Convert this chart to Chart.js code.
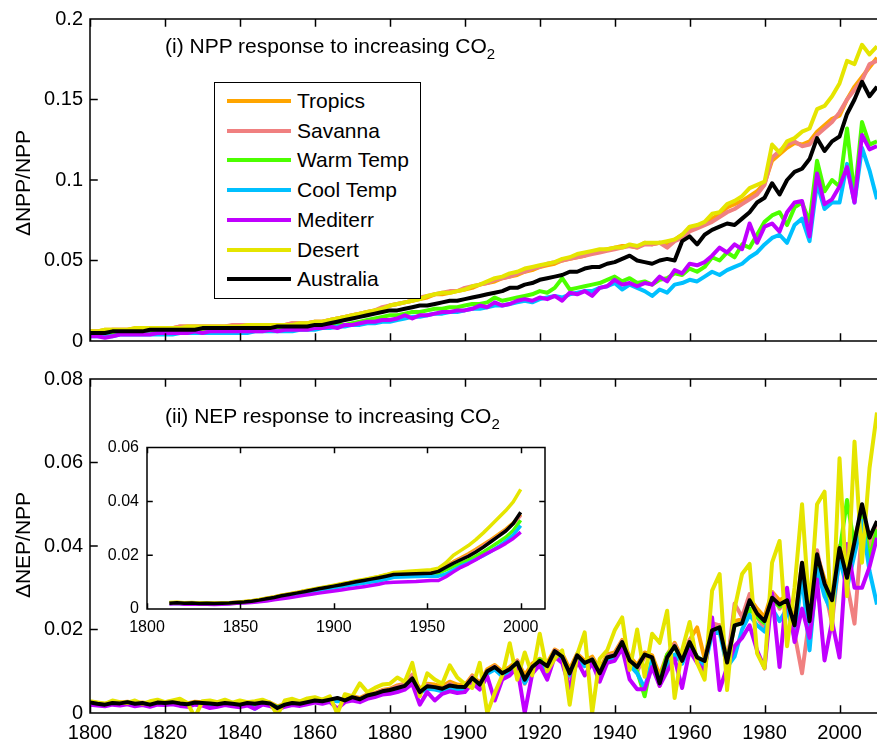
<!DOCTYPE html>
<html>
<head>
<meta charset="utf-8">
<script src="https://cdn.jsdelivr.net/npm/chart.js@4.4.1/dist/chart.umd.min.js"></script>
<style>
  html, body { margin:0; padding:0; background:#fff; width:877px; height:742px; overflow:hidden; }
  body { position:relative; font-family:"Liberation Sans", Arial, Helvetica, sans-serif; color:#000; }
  canvas { position:absolute; }
  .txt { position:absolute; white-space:nowrap; font-size:21px; line-height:20px; }
  .ytitle { position:absolute; white-space:nowrap; font-size:21px; transform:translate(-50%,-50%) rotate(-90deg); }
  sub { font-size:15px; vertical-align:-6px; line-height:0; }
  #legend { position:absolute; left:214px; top:82px; width:205px; height:215px; border:1.5px solid #000; background:#fff; }
  .lrow { position:absolute; left:0; height:24px; }
  .lline { position:absolute; left:12px; width:64px; height:4px; top:10px; }
  .ltext { position:absolute; left:82px; top:0; font-size:21px; line-height:24px; white-space:nowrap; }
</style>
</head>
<body>
<canvas id="cTop" width="877" height="360" style="left:0;top:0"></canvas>
<canvas id="cBot" width="877" height="382" style="left:0;top:360px"></canvas>
<canvas id="cIn" width="460" height="210" style="left:100px;top:430px"></canvas>
<div class="txt" style="left:165px;top:36px">(i) NPP response to increasing CO<sub>2</sub></div>
<div class="txt" style="left:165px;top:406px">(ii) NEP response to increasing CO<sub>2</sub></div>
<div class="ytitle" style="left:23px;top:183px">ΔNPP/NPP</div>
<div class="ytitle" style="left:23px;top:545px">ΔNEP/NPP</div>
<div id="legend"></div>
<script>
// ---------- categories / ticks ----------
const names  = ["Tropics","Savanna","Warm Temp","Cool Temp","Mediterr","Desert","Australia"];
const colors = ["#FFA500","#F08080","#4CFF00","#00C0FF","#C000FF","#E5E500","#000000"];
const years = [];
for (let y = 1800; y <= 2010; y += 2) years.push(y);
const yearsInset = [];
for (let y = 1812; y <= 2000; y += 4) yearsInset.push(y);
const xTicksMain  = [1800,1820,1840,1860,1880,1900,1920,1940,1960,1980,2000];
const yTicksTop   = [0,0.05,0.1,0.15,0.2];
const yTicksBot   = [0,0.02,0.04,0.06,0.08];
const xTicksInset = [1800,1850,1900,1950,2000];
const yTicksInset = [0,0.02,0.04,0.06];

// ---------- (i) dNPP/NPP ----------
const nppTropics = [
0.006,0.006,0.007,0.007,0.007,0.007,0.008,0.008,0.008,0.008,
0.008,0.008,0.009,0.009,0.009,0.009,0.009,0.009,0.009,0.009,
0.009,0.010,0.010,0.010,0.010,0.010,0.010,0.011,0.011,0.011,
0.012,0.012,0.013,0.014,0.015,0.016,0.017,0.018,0.019,0.020,
0.022,0.023,0.024,0.025,0.026,0.027,0.029,0.029,0.030,0.031,
0.032,0.033,0.035,0.036,0.037,0.039,0.040,0.041,0.043,0.044,
0.046,0.047,0.048,0.050,0.051,0.052,0.053,0.055,0.056,0.057,
0.058,0.059,0.059,0.058,0.061,0.060,0.061,0.060,0.063,0.066,
0.069,0.071,0.073,0.076,0.079,0.083,0.085,0.087,0.090,0.093,
0.098,0.112,0.116,0.120,0.123,0.122,0.124,0.130,0.134,0.138,
0.140,0.150,0.158,0.164,0.170,0.176];
const nppSavanna = [
0.006,0.006,0.006,0.007,0.007,0.007,0.007,0.008,0.008,0.008,
0.008,0.008,0.009,0.009,0.009,0.009,0.009,0.009,0.009,0.010,
0.010,0.010,0.010,0.010,0.010,0.010,0.010,0.011,0.011,0.011,
0.012,0.012,0.013,0.014,0.015,0.016,0.017,0.018,0.019,0.021,
0.022,0.023,0.024,0.025,0.027,0.028,0.029,0.030,0.031,0.031,
0.033,0.034,0.035,0.036,0.038,0.039,0.040,0.042,0.043,0.045,
0.046,0.048,0.049,0.050,0.051,0.052,0.053,0.054,0.055,0.056,
0.057,0.058,0.059,0.058,0.060,0.060,0.061,0.058,0.062,0.064,
0.068,0.070,0.072,0.074,0.077,0.080,0.082,0.085,0.088,0.091,
0.097,0.114,0.118,0.122,0.124,0.121,0.122,0.128,0.132,0.136,
0.142,0.150,0.156,0.162,0.172,0.174];
const nppWarm = [
0.004,0.004,0.004,0.004,0.005,0.005,0.005,0.005,0.005,0.005,
0.005,0.005,0.006,0.006,0.006,0.006,0.006,0.006,0.006,0.007,
0.007,0.007,0.007,0.007,0.007,0.007,0.007,0.008,0.008,0.008,
0.008,0.009,0.009,0.010,0.010,0.011,0.012,0.013,0.014,0.015,
0.016,0.016,0.017,0.018,0.018,0.019,0.020,0.020,0.021,0.021,
0.022,0.023,0.023,0.024,0.027,0.025,0.026,0.027,0.028,0.029,
0.031,0.030,0.033,0.039,0.032,0.033,0.034,0.035,0.036,0.038,
0.040,0.037,0.039,0.036,0.037,0.035,0.038,0.039,0.042,0.041,
0.045,0.043,0.046,0.052,0.050,0.055,0.052,0.060,0.058,0.066,
0.074,0.078,0.080,0.072,0.083,0.086,0.074,0.112,0.093,0.100,
0.096,0.132,0.090,0.136,0.122,0.124];
const nppCool = [
0.003,0.003,0.003,0.003,0.004,0.004,0.004,0.004,0.004,0.004,
0.004,0.004,0.005,0.005,0.005,0.005,0.005,0.005,0.005,0.005,
0.005,0.005,0.006,0.006,0.006,0.006,0.006,0.006,0.007,0.007,
0.007,0.008,0.008,0.009,0.009,0.010,0.010,0.011,0.011,0.012,
0.012,0.013,0.014,0.015,0.015,0.016,0.017,0.017,0.018,0.018,
0.019,0.020,0.020,0.021,0.022,0.022,0.023,0.024,0.025,0.024,
0.026,0.027,0.028,0.027,0.029,0.030,0.031,0.031,0.033,0.034,
0.036,0.032,0.035,0.033,0.031,0.028,0.032,0.030,0.035,0.036,
0.038,0.037,0.040,0.043,0.041,0.044,0.046,0.048,0.052,0.055,
0.060,0.064,0.066,0.061,0.072,0.076,0.062,0.098,0.082,0.086,
0.086,0.110,0.086,0.120,0.106,0.088];
const nppMed = [
0.003,0.003,0.002,0.003,0.004,0.004,0.004,0.004,0.004,0.005,
0.005,0.005,0.005,0.005,0.006,0.005,0.006,0.006,0.006,0.006,
0.006,0.006,0.006,0.006,0.007,0.006,0.007,0.007,0.007,0.007,
0.008,0.008,0.009,0.008,0.010,0.010,0.011,0.012,0.012,0.013,
0.013,0.014,0.016,0.014,0.016,0.016,0.017,0.018,0.018,0.019,
0.019,0.020,0.022,0.021,0.024,0.022,0.023,0.025,0.026,0.025,
0.027,0.026,0.028,0.025,0.030,0.029,0.031,0.028,0.033,0.034,
0.038,0.035,0.036,0.034,0.036,0.035,0.040,0.037,0.044,0.042,
0.048,0.047,0.049,0.053,0.058,0.055,0.060,0.057,0.073,0.061,
0.071,0.073,0.068,0.080,0.086,0.087,0.065,0.104,0.085,0.088,
0.096,0.108,0.086,0.128,0.119,0.121];
const nppDesert = [
0.006,0.006,0.007,0.007,0.007,0.007,0.008,0.008,0.008,0.008,
0.008,0.008,0.008,0.009,0.009,0.009,0.009,0.009,0.009,0.009,
0.009,0.010,0.010,0.010,0.010,0.010,0.010,0.010,0.011,0.011,
0.012,0.012,0.013,0.014,0.015,0.016,0.017,0.018,0.019,0.020,
0.022,0.023,0.024,0.025,0.026,0.028,0.029,0.030,0.030,0.031,
0.032,0.034,0.035,0.037,0.039,0.040,0.042,0.043,0.045,0.046,
0.047,0.048,0.049,0.051,0.052,0.054,0.055,0.056,0.057,0.057,
0.058,0.058,0.060,0.059,0.061,0.061,0.061,0.062,0.063,0.066,
0.071,0.072,0.074,0.079,0.080,0.085,0.087,0.090,0.095,0.097,
0.099,0.122,0.117,0.124,0.126,0.130,0.132,0.144,0.146,0.152,
0.160,0.174,0.172,0.184,0.178,0.183];
const nppAustralia = [
0.005,0.005,0.005,0.006,0.006,0.006,0.006,0.006,0.007,0.007,
0.007,0.007,0.007,0.007,0.007,0.008,0.008,0.008,0.008,0.008,
0.008,0.008,0.008,0.008,0.008,0.009,0.009,0.009,0.009,0.009,
0.010,0.010,0.011,0.012,0.013,0.014,0.015,0.016,0.017,0.018,
0.019,0.019,0.020,0.021,0.022,0.022,0.023,0.024,0.025,0.025,
0.026,0.027,0.028,0.029,0.030,0.031,0.033,0.033,0.035,0.036,
0.038,0.039,0.040,0.041,0.043,0.043,0.045,0.046,0.046,0.048,
0.049,0.051,0.053,0.050,0.049,0.048,0.050,0.051,0.050,0.062,
0.065,0.060,0.066,0.069,0.071,0.073,0.072,0.076,0.080,0.086,
0.089,0.098,0.091,0.100,0.105,0.107,0.113,0.126,0.118,0.124,
0.127,0.141,0.150,0.161,0.152,0.158];

// ---------- (ii) dNEP/NPP ----------
const nepTropics = [
0.0026,0.0024,0.0022,0.0026,0.0025,0.0027,0.0024,0.0025,0.0022,0.0027,
0.0026,0.0028,0.0025,0.0023,0.0027,0.0026,0.0025,0.0023,0.0026,0.0024,
0.0022,0.0026,0.0024,0.0027,0.0025,0.0016,0.0022,0.0026,0.0025,0.0028,
0.0032,0.0030,0.0034,0.0030,0.0034,0.0040,0.0036,0.0045,0.0048,0.0055,
0.0058,0.0066,0.0070,0.0090,0.0058,0.0070,0.0068,0.0064,0.0075,0.0068,
0.0066,0.0090,0.0072,0.0105,0.0115,0.0100,0.0110,0.0126,0.0090,0.0118,
0.0130,0.0120,0.0152,0.0142,0.0105,0.0142,0.0125,0.0135,0.0105,0.0140,
0.0145,0.0175,0.0135,0.0115,0.0145,0.0138,0.0090,0.0140,0.0168,0.0130,
0.0175,0.0205,0.0130,0.0205,0.0210,0.0130,0.0220,0.0225,0.0275,0.0250,
0.0230,0.0290,0.0270,0.0280,0.0220,0.0360,0.0220,0.0380,0.0320,0.0280,
0.0400,0.0330,0.0420,0.0480,0.0400,0.0440];
const nepSavanna = [
0.0024,0.0021,0.0020,0.0023,0.0022,0.0025,0.0021,0.0023,0.0019,0.0024,
0.0023,0.0025,0.0022,0.0020,0.0024,0.0023,0.0022,0.0020,0.0023,0.0021,
0.0019,0.0023,0.0021,0.0024,0.0022,0.0012,0.0019,0.0023,0.0021,0.0025,
0.0030,0.0026,0.0034,0.0030,0.0028,0.0040,0.0032,0.0044,0.0046,0.0054,
0.0056,0.0064,0.0070,0.0092,0.0048,0.0068,0.0060,0.0056,0.0070,0.0058,
0.0060,0.0088,0.0066,0.0100,0.0112,0.0092,0.0100,0.0125,0.0070,0.0112,
0.0115,0.0105,0.0150,0.0140,0.0085,0.0140,0.0115,0.0130,0.0090,0.0137,
0.0140,0.0172,0.0125,0.0100,0.0135,0.0130,0.0065,0.0135,0.0165,0.0120,
0.0175,0.0130,0.0120,0.0215,0.0210,0.0110,0.0262,0.0230,0.0285,0.0230,
0.0200,0.0290,0.0250,0.0280,0.0190,0.0095,0.0230,0.0390,0.0300,0.0215,
0.0380,0.0310,0.0214,0.0440,0.0400,0.0450];
const nepWarm = [
0.0024,0.0022,0.0020,0.0023,0.0022,0.0025,0.0021,0.0023,0.0020,0.0024,
0.0023,0.0025,0.0022,0.0020,0.0024,0.0022,0.0022,0.0020,0.0023,0.0021,
0.0019,0.0023,0.0021,0.0024,0.0022,0.0014,0.0019,0.0023,0.0021,0.0025,
0.0029,0.0027,0.0031,0.0030,0.0030,0.0036,0.0032,0.0040,0.0044,0.0050,
0.0053,0.0058,0.0064,0.0080,0.0050,0.0062,0.0060,0.0056,0.0064,0.0060,
0.0060,0.0082,0.0066,0.0098,0.0108,0.0092,0.0104,0.0120,0.0078,0.0108,
0.0128,0.0112,0.0146,0.0134,0.0095,0.0136,0.0118,0.0128,0.0098,0.0133,
0.0136,0.0168,0.0120,0.0100,0.0040,0.0130,0.0075,0.0140,0.0158,0.0125,
0.0168,0.0135,0.0122,0.0198,0.0205,0.0120,0.0210,0.0215,0.0250,0.0230,
0.0215,0.0270,0.0255,0.0265,0.0200,0.0350,0.0200,0.0365,0.0300,0.0265,
0.0385,0.0510,0.0400,0.0480,0.0370,0.0440];
const nepCool = [
0.0023,0.0021,0.0019,0.0022,0.0021,0.0024,0.0020,0.0022,0.0019,0.0023,
0.0022,0.0024,0.0021,0.0019,0.0023,0.0021,0.0021,0.0019,0.0022,0.0020,
0.0018,0.0022,0.0010,0.0023,0.0021,0.0012,0.0018,0.0022,0.0020,0.0024,
0.0028,0.0026,0.0030,0.0028,0.0029,0.0035,0.0030,0.0038,0.0042,0.0048,
0.0050,0.0055,0.0060,0.0075,0.0048,0.0058,0.0056,0.0052,0.0060,0.0056,
0.0056,0.0078,0.0062,0.0094,0.0104,0.0088,0.0098,0.0115,0.0072,0.0102,
0.0122,0.0090,0.0140,0.0128,0.0090,0.0130,0.0112,0.0125,0.0092,0.0128,
0.0130,0.0160,0.0115,0.0095,0.0060,0.0125,0.0070,0.0115,0.0140,0.0118,
0.0160,0.0128,0.0112,0.0190,0.0195,0.0110,0.0135,0.0200,0.0235,0.0210,
0.0195,0.0250,0.0220,0.0250,0.0180,0.0330,0.0150,0.0345,0.0280,0.0240,
0.0370,0.0300,0.0380,0.0460,0.0340,0.0260];
const nepMed = [
0.0020,0.0018,0.0016,0.0020,0.0018,0.0021,0.0016,0.0019,0.0015,0.0020,
0.0019,0.0021,0.0017,0.0015,0.0020,0.0018,0.0012,0.0015,0.0019,0.0016,
0.0014,0.0018,0.0010,0.0020,0.0017,0.0008,0.0015,0.0019,0.0017,0.0021,
0.0025,0.0022,0.0027,0.0010,0.0026,0.0030,0.0026,0.0034,0.0038,0.0044,
0.0046,0.0050,0.0056,0.0070,0.0020,0.0050,0.0030,0.0046,0.0052,0.0048,
0.0050,0.0072,0.0056,0.0088,0.0030,0.0080,0.0090,0.0110,0.0000,0.0094,
0.0115,0.0080,0.0135,0.0120,0.0060,0.0125,0.0090,0.0120,0.0075,0.0120,
0.0125,0.0155,0.0080,0.0057,0.0057,0.0110,0.0065,0.0100,0.0130,0.0060,
0.0150,0.0120,0.0100,0.0229,0.0055,0.0110,0.0160,0.0180,0.0210,0.0150,
0.0107,0.0286,0.0110,0.0300,0.0170,0.0250,0.0180,0.0320,0.0126,0.0220,
0.0133,0.0405,0.0300,0.0300,0.0350,0.0420];
const nepDesert = [
0.0028,0.0025,0.0022,0.0030,0.0026,0.0024,0.0030,0.0022,0.0028,0.0032,
0.0026,0.0030,0.0034,0.0024,-0.0010,0.0028,0.0030,0.0026,0.0032,0.0025,
0.0030,0.0026,0.0028,0.0032,0.0025,-0.0005,0.0030,0.0034,0.0028,0.0035,
0.0038,0.0032,0.0040,-0.0002,0.0045,0.0040,0.0071,0.0050,0.0060,0.0068,
0.0070,0.0085,0.0075,0.0120,0.0040,0.0095,0.0080,0.0070,0.0114,0.0085,
0.0070,0.0060,0.0120,0.0000,0.0048,0.0090,0.0167,0.0080,0.0145,0.0090,
0.0190,0.0100,0.0130,0.0150,0.0020,0.0140,0.0193,0.0000,0.0130,0.0150,
0.0198,0.0229,0.0103,0.0200,0.0087,0.0190,0.0168,0.0245,0.0036,0.0150,
0.0218,0.0120,0.0080,0.0293,0.0333,0.0055,0.0250,0.0333,0.0357,0.0143,
0.0107,0.0360,0.0412,0.0160,0.0300,0.0500,0.0240,0.0500,0.0530,0.0200,
0.0610,0.0280,0.0650,0.0360,0.0586,0.0720];
const nepAustralia = [
0.0025,0.0022,0.0020,0.0024,0.0023,0.0026,0.0022,0.0024,0.0020,0.0025,
0.0024,0.0026,0.0023,0.0021,0.0025,0.0024,0.0023,0.0021,0.0024,0.0022,
0.0020,0.0024,0.0022,0.0025,0.0023,0.0012,0.0020,0.0024,0.0022,0.0026,
0.0030,0.0028,0.0032,0.0036,0.0030,0.0038,0.0033,0.0042,0.0046,0.0052,
0.0055,0.0060,0.0065,0.0083,0.0050,0.0064,0.0062,0.0058,0.0066,0.0063,
0.0062,0.0084,0.0068,0.0100,0.0110,0.0095,0.0105,0.0121,0.0080,0.0110,
0.0125,0.0112,0.0148,0.0135,0.0095,0.0138,0.0120,0.0128,0.0095,0.0133,
0.0138,0.0170,0.0126,0.0110,0.0140,0.0133,0.0071,0.0133,0.0160,0.0125,
0.0170,0.0133,0.0125,0.0198,0.0205,0.0121,0.0210,0.0215,0.0270,0.0238,
0.0220,0.0276,0.0260,0.0270,0.0210,0.0360,0.0220,0.0380,0.0310,0.0270,
0.0395,0.0324,0.0410,0.0500,0.0420,0.0460];

// ---------- inset (cumulative NEP) ----------
const inTropics = [
0.0022,0.0024,0.0022,0.0023,0.0021,0.0022,0.0021,0.0022,0.0023,0.0025,
0.0027,0.0030,0.0034,0.0040,0.0045,0.0051,0.0056,0.0061,0.0067,0.0072,
0.0077,0.0082,0.0087,0.0093,0.0098,0.0103,0.0108,0.0114,0.0120,0.0127,
0.0133,0.0134,0.0135,0.0136,0.0137,0.0138,0.0144,0.0160,0.0176,0.0190,
0.0205,0.0222,0.0240,0.0258,0.0277,0.0297,0.0320,0.0352];
const inSavanna = [
0.0022,0.0023,0.0022,0.0022,0.0021,0.0021,0.0021,0.0022,0.0022,0.0025,
0.0027,0.0030,0.0034,0.0039,0.0044,0.0050,0.0055,0.0060,0.0066,0.0071,
0.0076,0.0081,0.0086,0.0092,0.0097,0.0102,0.0107,0.0112,0.0118,0.0125,
0.0131,0.0132,0.0133,0.0134,0.0135,0.0136,0.0142,0.0157,0.0172,0.0186,
0.0200,0.0216,0.0234,0.0253,0.0272,0.0292,0.0316,0.0348];
const inWarm = [
0.0021,0.0022,0.0020,0.0021,0.0020,0.0020,0.0019,0.0020,0.0021,0.0023,
0.0025,0.0028,0.0031,0.0036,0.0041,0.0046,0.0051,0.0056,0.0061,0.0066,
0.0071,0.0076,0.0081,0.0086,0.0091,0.0096,0.0101,0.0106,0.0111,0.0117,
0.0122,0.0123,0.0124,0.0125,0.0126,0.0127,0.0133,0.0145,0.0158,0.0170,
0.0182,0.0196,0.0212,0.0230,0.0248,0.0267,0.0292,0.0330];
const inCool = [
0.0020,0.0021,0.0019,0.0020,0.0019,0.0019,0.0018,0.0019,0.0020,0.0022,
0.0024,0.0026,0.0029,0.0033,0.0038,0.0043,0.0048,0.0053,0.0058,0.0063,
0.0068,0.0073,0.0078,0.0083,0.0088,0.0092,0.0096,0.0100,0.0104,0.0110,
0.0118,0.0119,0.0120,0.0121,0.0122,0.0123,0.0122,0.0130,0.0145,0.0160,
0.0172,0.0185,0.0198,0.0214,0.0232,0.0252,0.0275,0.0310];
const inMed = [
0.0019,0.0020,0.0018,0.0019,0.0018,0.0018,0.0017,0.0018,0.0019,0.0021,
0.0022,0.0024,0.0027,0.0030,0.0034,0.0038,0.0042,0.0046,0.0051,0.0055,
0.0059,0.0063,0.0067,0.0071,0.0075,0.0079,0.0083,0.0087,0.0092,0.0098,
0.0099,0.0100,0.0101,0.0102,0.0104,0.0106,0.0106,0.0120,0.0138,0.0155,
0.0168,0.0183,0.0200,0.0214,0.0228,0.0244,0.0262,0.0286];
const inDesert = [
0.0024,0.0025,0.0023,0.0024,0.0022,0.0023,0.0022,0.0023,0.0023,0.0025,
0.0028,0.0031,0.0035,0.0040,0.0045,0.0051,0.0056,0.0061,0.0067,0.0073,
0.0078,0.0083,0.0088,0.0094,0.0099,0.0105,0.0110,0.0115,0.0121,0.0128,
0.0136,0.0138,0.0140,0.0142,0.0144,0.0146,0.0152,0.0172,0.0200,0.0218,
0.0236,0.0258,0.0283,0.0310,0.0338,0.0366,0.0398,0.0445];
const inAustralia = [
0.0021,0.0023,0.0021,0.0022,0.0020,0.0021,0.0020,0.0021,0.0022,0.0024,
0.0026,0.0029,0.0033,0.0038,0.0043,0.0049,0.0054,0.0059,0.0064,0.0070,
0.0075,0.0080,0.0085,0.0090,0.0096,0.0101,0.0106,0.0111,0.0116,0.0122,
0.0128,0.0129,0.0130,0.0131,0.0132,0.0133,0.0140,0.0155,0.0170,0.0183,
0.0196,0.0212,0.0230,0.0250,0.0270,0.0290,0.0318,0.0360];

// ---------- rendering ----------
const FONT = '"Liberation Sans", Arial, Helvetica, sans-serif';

const framePlugin = {
  id: 'frame',
  beforeDatasetsDraw(chart, args, o) {
    if (!o.fill) return;
    const a = chart.chartArea, ctx = chart.ctx;
    ctx.save(); ctx.fillStyle = '#fff';
    ctx.fillRect(a.left, a.top, a.right - a.left, a.bottom - a.top);
    ctx.restore();
  },
  afterDatasetsDraw(chart, args, o) {
    const ctx = chart.ctx, a = chart.chartArea, x = chart.scales.x, y = chart.scales.y;
    const L = o.tick;
    ctx.save();
    ctx.strokeStyle = '#000'; ctx.lineWidth = o.lw; ctx.lineCap = 'square';
    ctx.beginPath();
    ctx.moveTo(a.left, a.top); ctx.lineTo(a.left, a.bottom);
    ctx.moveTo(a.left, a.bottom); ctx.lineTo(a.right, a.bottom);
    ctx.moveTo(a.left, a.top); ctx.lineTo(a.right, a.top);
    if (o.right) { ctx.moveTo(a.right, a.top); ctx.lineTo(a.right, a.bottom); }
    x.ticks.forEach(t => {
      const px = Math.round(x.getPixelForValue(t.value)) + 0.5;
      ctx.moveTo(px, a.bottom); ctx.lineTo(px, a.bottom - L);
      ctx.moveTo(px, a.top); ctx.lineTo(px, a.top + L);
    });
    y.ticks.forEach(t => {
      const py = y.getPixelForValue(t.value);
      ctx.moveTo(a.left, py); ctx.lineTo(a.left + L, py);
      if (o.right) { ctx.moveTo(a.right, py); ctx.lineTo(a.right - L, py); }
    });
    ctx.stroke();
    ctx.restore();
  }
};

function datasets(xs, series, bw) {
  return series.map((vals, i) => ({
    label: names[i],
    data: xs.map((xv, j) => ({ x: xv, y: vals[j] })),
    borderColor: colors[i],
    backgroundColor: colors[i],
    borderWidth: bw,
    pointRadius: 0,
    tension: 0,
    fill: false,
    borderJoinStyle: 'round',
    order: names.length - i
  }));
}

function makeChart(id, c) {
  return new Chart(document.getElementById(id), {
    type: 'line',
    data: { datasets: datasets(c.xs, c.series, c.bw) },
    options: {
      responsive: false, animation: false, devicePixelRatio: 1,
      layout: { padding: { top: c.padTop, right: c.padRight, left: 0, bottom: 0 } },
      plugins: { legend: { display: false }, tooltip: { enabled: false },
                 frame: { lw: c.lw, tick: c.tickLen, right: c.right, fill: c.fill } },
      scales: {
        x: {
          type: 'linear', min: c.xmin, max: c.xmax,
          grid: { display: false, drawTicks: false }, border: { display: false },
          afterBuildTicks: ax => { ax.ticks = c.xTicks.map(v => ({ value: v })); },
          afterFit: ax => { ax.height = c.xH; },
          ticks: { display: c.showX, padding: c.xPad, color: '#000', maxRotation: 0, autoSkip: false,
                   font: { family: FONT, size: c.fs }, callback: v => String(v) }
        },
        y: {
          type: 'linear', min: c.ymin, max: c.ymax,
          grid: { display: false, drawTicks: false }, border: { display: false },
          afterBuildTicks: ax => { ax.ticks = c.yTicks.map(v => ({ value: v })); },
          afterFit: ax => { ax.width = c.yW; },
          ticks: { padding: c.yPad, color: '#000', autoSkip: false,
                   font: { family: FONT, size: c.fs }, callback: v => String(v) }
        }
      }
    },
    plugins: [framePlugin]
  });
}

makeChart('cTop', {
  xs: years, series: [nppTropics, nppSavanna, nppWarm, nppCool, nppMed, nppDesert, nppAustralia],
  bw: 4, xmin: 1800, xmax: 2010, ymin: 0, ymax: 0.2,
  xTicks: xTicksMain, yTicks: yTicksTop, showX: false,
  padTop: 16, padRight: 0, xH: 8, yW: 90, xPad: 8, yPad: 7, fs: 20,
  lw: 1.5, tickLen: 7, right: false, fill: false
});
makeChart('cBot', {
  xs: years, series: [nepTropics, nepSavanna, nepWarm, nepCool, nepMed, nepDesert, nepAustralia],
  bw: 4, xmin: 1800, xmax: 2010, ymin: 0, ymax: 0.08,
  xTicks: xTicksMain, yTicks: yTicksBot, showX: true,
  padTop: 17, padRight: 0, xH: 29, yW: 90, xPad: 8, yPad: 7, fs: 20,
  lw: 1.5, tickLen: 7, right: false, fill: false
});
makeChart('cIn', {
  xs: yearsInset, series: [inTropics, inSavanna, inWarm, inCool, inMed, inDesert, inAustralia],
  bw: 3.5, xmin: 1800, xmax: 2013, ymin: 0, ymax: 0.06,
  xTicks: xTicksInset, yTicks: yTicksInset, showX: true,
  padTop: 12, padRight: 15, xH: 31, yW: 47, xPad: 9, yPad: 8, fs: 16,
  lw: 1.5, tickLen: 5, right: true, fill: true
});

// legend built from names / colors
const lg = document.getElementById('legend');
names.forEach((n, i) => {
  const row = document.createElement('div');
  row.className = 'lrow';
  row.style.top = (6 + i * 29.7) + 'px';
  row.innerHTML = '<div class="lline" style="background:' + colors[i] + '"></div><div class="ltext">' + n + '</div>';
  lg.appendChild(row);
});
</script>
</body>
</html>
